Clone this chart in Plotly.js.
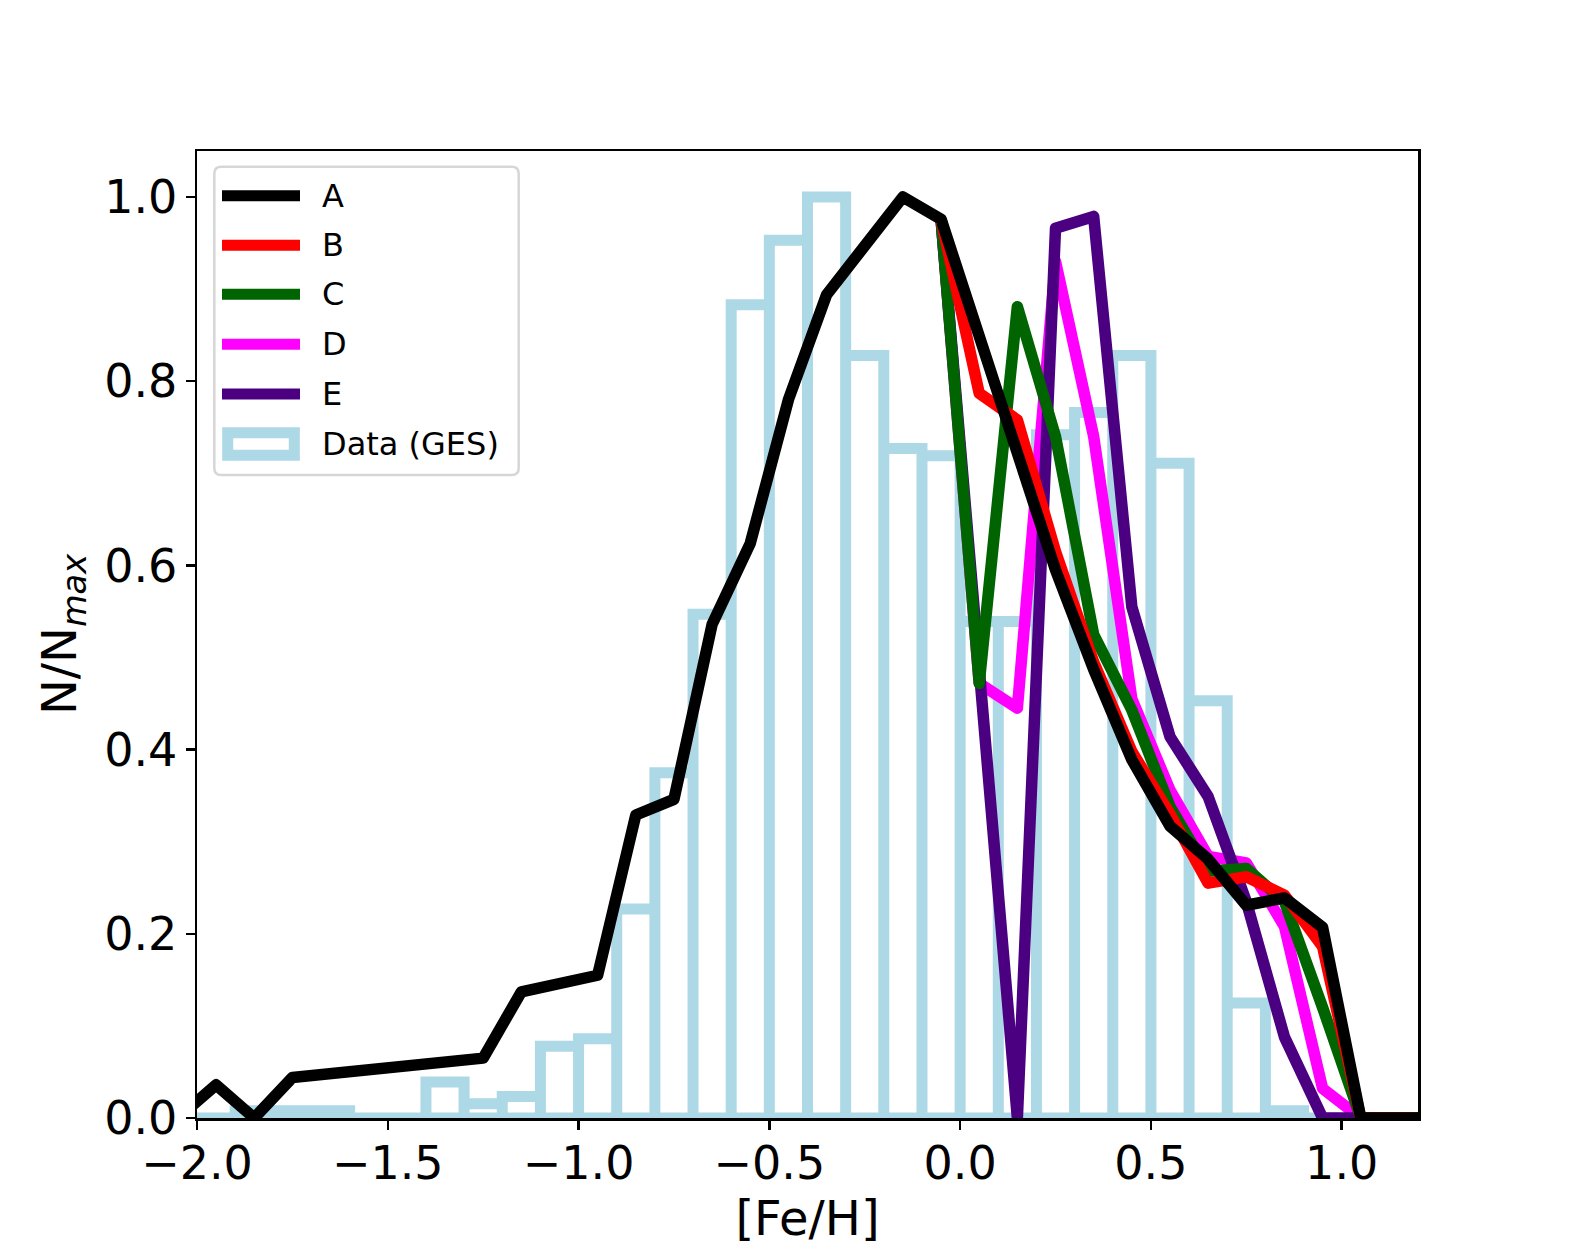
<!DOCTYPE html>
<html>
<head>
<meta charset="utf-8">
<script src="https://cdn.plot.ly/plotly-3.0.1.min.js"></script>
<style>
  html, body { margin: 0; padding: 0; background: #fff; }
  #plot { width: 1576px; height: 1256px; }
</style>
</head>
<body>
<div id="plot"></div>
<script>
// GES histogram, bins of 0.1 dex (left edges) and normalised counts
var histLeft = [-2.0, -1.9, -1.8, -1.7, -1.6, -1.5, -1.4, -1.3, -1.2, -1.1,
                -1.0, -0.9, -0.8, -0.7, -0.6, -0.5, -0.4, -0.3, -0.2, -0.1,
                 0.0,  0.1,  0.2,  0.3,  0.4,  0.5,  0.6,  0.7,  0.8,  0.9];
var histHeight = [0.0, 0.0078, 0.0078, 0.0078, 0.0, 0.0, 0.039, 0.0156, 0.0234, 0.078,
                  0.086, 0.227, 0.375, 0.547, 0.883, 0.953, 1.0, 0.828, 0.727, 0.719,
                  0.539, 0.539, 0.742, 0.766, 0.828, 0.711, 0.453, 0.125, 0.0078, 0.0];
var binWidth = 0.1;

// model A over the whole range
var aX = [-2.05, -1.95, -1.85, -1.75, -1.25, -1.15, -0.95, -0.85, -0.75, -0.65,
          -0.55, -0.45, -0.35, -0.15, -0.05, 0.05, 0.15, 0.25, 0.35, 0.45,
           0.55, 0.65, 0.75, 0.85, 0.95, 1.05, 1.15, 1.25];
var aY = [0.0, 0.036, 0.0, 0.044, 0.065, 0.137, 0.155, 0.329, 0.346, 0.536,
          0.624, 0.780, 0.894, 1.0, 0.976, 0.846, 0.718, 0.595, 0.487, 0.389,
          0.317, 0.281, 0.231, 0.239, 0.207, 0.0, 0.0, 0.0];

// models B-E follow A up to -0.05, then split
var splitX = [-0.05, 0.05, 0.15, 0.25, 0.35, 0.45, 0.55, 0.65, 0.75, 0.85, 0.95, 1.05, 1.15, 1.25];
var bY = [0.976, 0.787, 0.758, 0.615, 0.495, 0.398, 0.330, 0.255, 0.262, 0.242, 0.186, 0.0, 0.0, 0.0];
var cY = [0.976, 0.472, 0.881, 0.740, 0.525, 0.443, 0.338, 0.268, 0.271, 0.235, 0.120, 0.0, 0.0, 0.0];
var dY = [0.976, 0.472, 0.445, 0.930, 0.740, 0.455, 0.356, 0.284, 0.277, 0.208, 0.032, 0.0, 0.0, 0.0];
var eY = [0.976, 0.472, 0.0, 0.966, 0.979, 0.555, 0.414, 0.349, 0.235, 0.088, 0.0, 0.0, 0.0, 0.0];

var names  = ['A', 'B', 'C', 'D', 'E', 'Data (GES)'];
var colors = ['#000000', '#ff0000', '#006400', '#ff00ff', '#4b0082', '#add8e6'];

var FONT = 'DejaVu Sans, Liberation Sans, sans-serif';
var LW = 11.5;

// plot area in pixels (matplotlib default subplot box)
var L = 197, R = 1418, T = 151, B = 1118;
function px(x) { return (x - L) / (R - L); }
function py(y) { return (B - y) / (B - T); }

// outline of the histogram bars (each bar drawn as its own box)
var hx = [], hy = [];
for (var i = 0; i < histLeft.length; i++) {
  var e0 = histLeft[i], e1 = histLeft[i] + binWidth;
  hx.push(e0, e0, e1, e1);
  hy.push(0, histHeight[i], histHeight[i], 0);
}
hx.push(histLeft[0]);
hy.push(0);

var data = [{
  x: hx, y: hy, type: 'scatter', mode: 'lines',
  line: {color: colors[5], width: 11, simplify: false},
  hoverinfo: 'skip', showlegend: false
}];

// drawing order seen in the figure: D, E, C, B, A on top
var series = {B: bY, C: cY, D: dY, E: eY};
['D', 'E', 'C', 'B'].forEach(function(k) {
  data.push({
    x: splitX, y: series[k], type: 'scatter', mode: 'lines', name: k,
    line: {color: colors[names.indexOf(k)], width: LW},
    showlegend: false
  });
});
data.push({
  x: aX, y: aY, type: 'scatter', mode: 'lines', name: 'A',
  line: {color: colors[0], width: LW}, showlegend: false
});

// hand-made legend box, like matplotlib's
var shapes = [], annotations = [];
var bx0 = 214.3, bx1 = 518.7, by0 = 166.7, by1 = 475, r = 7;
var rx = r / (R - L), ry = r / (B - T);
var X0 = px(bx0), X1 = px(bx1), Y0 = py(by0), Y1 = py(by1);
shapes.push({
  type: 'path', xref: 'paper', yref: 'paper', layer: 'above',
  path: 'M' + (X0 + rx) + ',' + Y0 + ' L' + (X1 - rx) + ',' + Y0 +
        ' Q' + X1 + ',' + Y0 + ' ' + X1 + ',' + (Y0 - ry) +
        ' L' + X1 + ',' + (Y1 + ry) +
        ' Q' + X1 + ',' + Y1 + ' ' + (X1 - rx) + ',' + Y1 +
        ' L' + (X0 + rx) + ',' + Y1 +
        ' Q' + X0 + ',' + Y1 + ' ' + X0 + ',' + (Y1 + ry) +
        ' L' + X0 + ',' + (Y0 - ry) +
        ' Q' + X0 + ',' + Y0 + ' ' + (X0 + rx) + ',' + Y0 + ' Z',
  fillcolor: 'rgba(255,255,255,0.8)',
  line: {color: 'rgba(204,204,204,0.8)', width: 2.5}
});

var rowY = [195.7, 245.3, 294.3, 344.3, 394.0, 444.0];
for (var j = 0; j < names.length; j++) {
  if (j < 5) {
    shapes.push({
      type: 'line', xref: 'paper', yref: 'paper', layer: 'above',
      x0: px(222), x1: px(300), y0: py(rowY[j]), y1: py(rowY[j]),
      line: {color: colors[j], width: 11}
    });
  } else {
    shapes.push({
      type: 'rect', xref: 'paper', yref: 'paper', layer: 'above',
      x0: px(227.7), x1: px(294.3), y0: py(rowY[j] - 11.3), y1: py(rowY[j] + 11.3),
      fillcolor: '#ffffff', line: {color: colors[j], width: 11}
    });
  }
  annotations.push({
    xref: 'paper', yref: 'paper', x: px(320), y: py(rowY[j]),
    xanchor: 'left', yanchor: 'middle', showarrow: false,
    text: names[j], font: {family: FONT, size: 32, color: '#000'}
  });
}

var axisCommon = {
  showgrid: false, zeroline: false,
  showline: true, mirror: true, linecolor: '#000', linewidth: 2.5,
  ticks: 'outside', ticklen: 9, tickwidth: 2.5, tickcolor: '#000',
  tickfont: {family: FONT, size: 46, color: '#000'},
  tickformat: '.1f'
};

var layout = {
  width: 1576, height: 1256,
  margin: {l: L, r: 1576 - R, t: T, b: 1256 - B, pad: 0},
  paper_bgcolor: '#fff', plot_bgcolor: '#fff',
  font: {family: FONT, color: '#000'},
  showlegend: false,
  xaxis: Object.assign({}, axisCommon, {
    range: [-2.0, 1.2], tick0: -2.0, dtick: 0.5, ticklabelstandoff: -6,
    title: {text: '[Fe/H]', font: {family: FONT, size: 48, color: '#000'}, standoff: 12}
  }),
  yaxis: Object.assign({}, axisCommon, {
    range: [0, 1.05], tick0: 0, dtick: 0.2, ticklabelstandoff: -1,
    title: {text: 'N/N<sub><i>max</i></sub>', font: {family: FONT, size: 48, color: '#000'}, standoff: 13}
  }),
  shapes: shapes,
  annotations: annotations
};

Plotly.newPlot('plot', data, layout, {displayModeBar: false, staticPlot: true}).then(function(gd) {
  // round joins on the model curves, like matplotlib lines
  var traces = gd.querySelectorAll('.scatterlayer .trace');
  for (var k = 1; k < traces.length; k++) {
    traces[k].querySelectorAll('path.js-line').forEach(function(p) {
      p.style.strokeLinejoin = 'round';
    });
  }
});
</script>
</body>
</html>
